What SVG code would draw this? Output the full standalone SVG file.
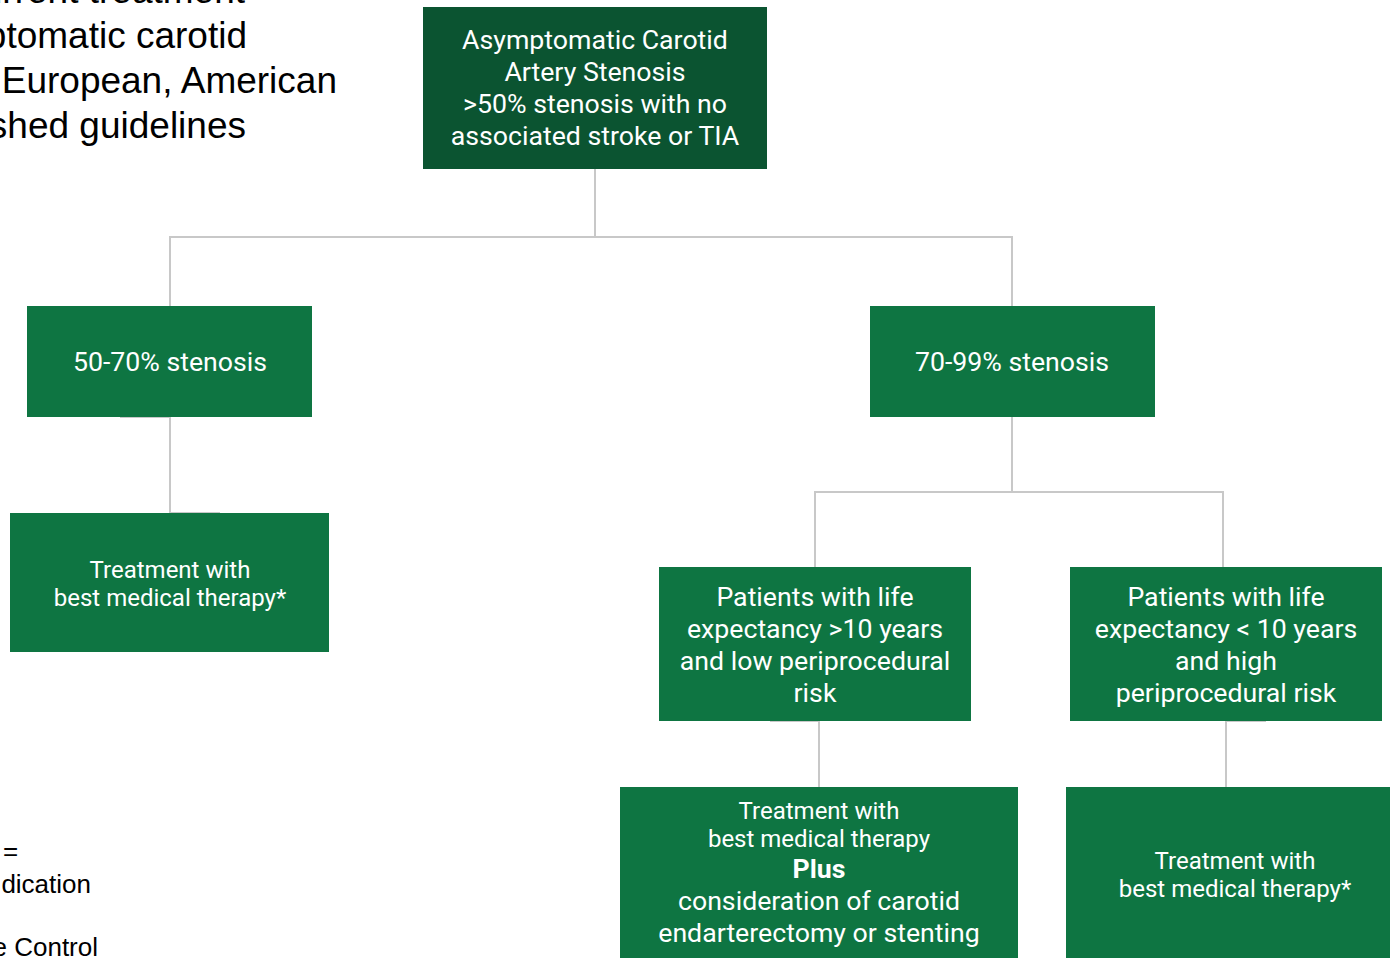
<svg xmlns="http://www.w3.org/2000/svg" width="1390" height="958" viewBox="0 0 1390 958">
<style>
.box{fill:#0e7542}
.dark{fill:#0b5431}
.t{font-family:Roboto,"Liberation Sans",sans-serif;fill:#ffffff;text-anchor:middle;font-size:26.7px}
.s{font-size:24px}
.b{font-weight:bold}
.title{font-family:"Liberation Sans",Arial,sans-serif;fill:#000000;font-size:37px;text-anchor:end}
.note{font-family:"Liberation Sans",Arial,sans-serif;fill:#000000;font-size:26px}
.c{fill:none;stroke:#c8c8c8;stroke-width:2}
</style>
<rect width="1390" height="958" fill="#ffffff"/>
<g id="title">
<text class="title" x="245" y="3">Current treatment</text>
<text class="title" x="247" y="48">ptomatic carotid</text>
<text class="title" x="337" y="93">European, American</text>
<text class="title" x="246" y="138">shed guidelines</text>
</g>
<g id="legend">
<text class="note" x="3" y="860">=</text>
<text class="note" x="91" y="893" text-anchor="end">dication</text>
<text class="note" x="98" y="956" text-anchor="end">e Control</text>
</g>
<g id="connectors">
<path class="c" d="M595,169 V237 M170,306 V237 H1012 V306"/>
<path class="c" d="M120,417 H170 V513 H220"/>
<path class="c" d="M1012,417 V492 M815,567 V492 H1223 V567"/>
<path class="c" d="M770,721 H819 V787"/>
<path class="c" d="M1266,721 H1226 V787"/>
</g>
<g id="node-root">
<rect class="dark" x="423" y="7" width="344" height="162"/>
<text class="t" x="595" y="49">Asymptomatic Carotid</text>
<text class="t" x="595" y="81">Artery Stenosis</text>
<text class="t" x="595" y="113">&gt;50% stenosis with no</text>
<text class="t" x="595" y="145">associated stroke or TIA</text>
</g>
<g id="node-50-70">
<rect class="box" x="27" y="306" width="285" height="111"/>
<text class="t" x="170" y="371">50-70% stenosis</text>
</g>
<g id="node-70-99">
<rect class="box" x="870" y="306" width="285" height="111"/>
<text class="t" x="1012" y="371">70-99% stenosis</text>
</g>
<g id="node-bmt-left">
<rect class="box" x="10" y="513" width="319" height="139"/>
<text class="t s" x="170" y="578">Treatment with</text>
<text class="t s" x="170" y="606">best medical therapy*</text>
</g>
<g id="node-long-life">
<rect class="box" x="659" y="567" width="312" height="154"/>
<text class="t" x="815" y="606">Patients with life</text>
<text class="t" x="815" y="638">expectancy &gt;10 years</text>
<text class="t" x="815" y="670">and low periprocedural</text>
<text class="t" x="815" y="702">risk</text>
</g>
<g id="node-short-life">
<rect class="box" x="1070" y="567" width="312" height="154"/>
<text class="t" x="1226" y="606">Patients with life</text>
<text class="t" x="1226" y="638">expectancy &lt; 10 years</text>
<text class="t" x="1226" y="670">and high</text>
<text class="t" x="1226" y="702">periprocedural risk</text>
</g>
<g id="node-bmt-plus">
<rect class="box" x="620" y="787" width="398" height="171"/>
<text class="t s" x="819" y="819">Treatment with</text>
<text class="t s" x="819" y="847">best medical therapy</text>
<text class="t b" x="819" y="878">Plus</text>
<text class="t" x="819" y="910">consideration of carotid</text>
<text class="t" x="819" y="942">endarterectomy or stenting</text>
</g>
<g id="node-bmt-right">
<rect class="box" x="1066" y="787" width="324" height="171"/>
<text class="t s" x="1235" y="869">Treatment with</text>
<text class="t s" x="1235" y="897">best medical therapy*</text>
</g>
</svg>
